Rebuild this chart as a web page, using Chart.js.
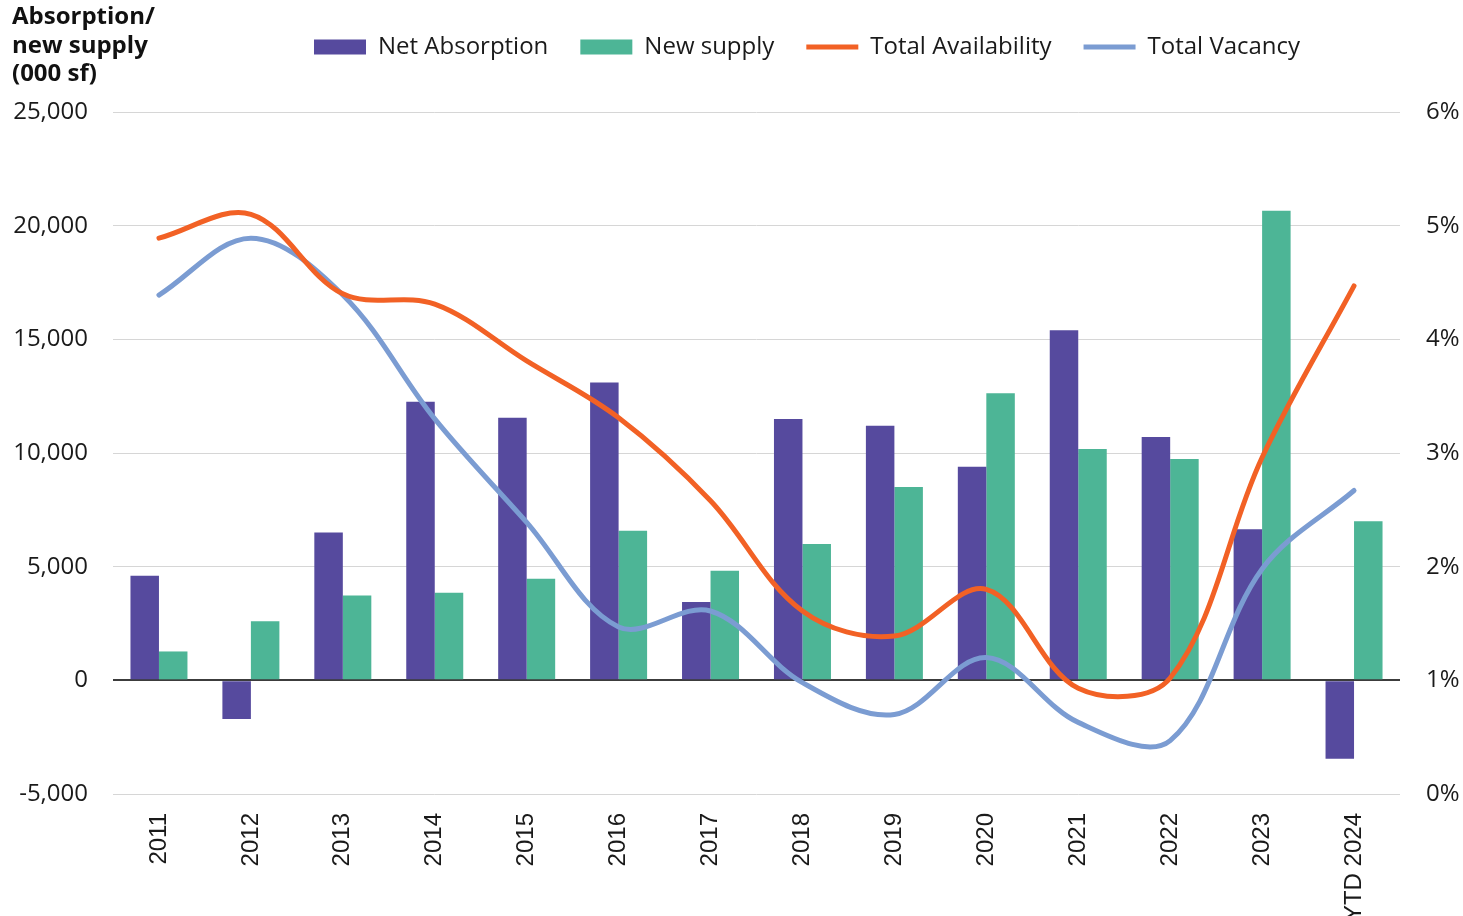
<!DOCTYPE html>
<html>
<head>
<meta charset="utf-8">
<script src="https://cdn.jsdelivr.net/npm/chart.js@4"></script>
<style>
  body { margin: 0; background: #fff; }
  #wrap { position: relative; width: 1463px; height: 916px; }
  #axisTitle {
    position: absolute; left: 12px; top: 1px;
    font: bold 24px/28.5px "Open Sans", sans-serif; color: #111;
  }
</style>
</head>
<body>
<div id="wrap">
  <canvas id="myChart" width="1463" height="916"></canvas>
  <div id="axisTitle">Absorption/<br>new supply<br>(000 sf)</div>
</div>
<script>
var years = ['2011','2012','2013','2014','2015','2016','2017','2018','2019','2020','2021','2022','2023','YTD 2024'];

// 000 sf
var netAbsorption = [4600, -1700, 6500, 12250, 11550, 13100, 3450, 11500, 11200, 9400, 15400, 10700, 6650, -3450];
var newSupply = [1270, 2600, 3730, 3850, 4470, 6580, 4820, 6000, 8500, 12630, 10180, 9740, 20660, 7000];

// percent
var totalAvailability = [4.89, 5.10, 4.40, 4.31, 3.81, 3.31, 2.58, 1.61, 1.39, 1.80, 0.93, 1.02, 2.96, 4.47];
var totalVacancy = [4.39, 4.89, 4.39, 3.30, 2.39, 1.47, 1.61, 0.98, 0.70, 1.20, 0.63, 0.47, 1.98, 2.67];

var leftTicks = { min: -5000, max: 25000, step: 5000 };
var rightTicks = { min: 0, max: 6, step: 1 };

var txt = '#1a1a1a';
var tickFont = { family: 'Open Sans', size: 24 };

// legend sits beside the title, not above the plot
var legendPlacer = {
  id: 'legendPlacer',
  afterLayout: function(chart) {
    var lg = chart.legend;
    var h = lg.height, w = lg.width;
    lg.top = 3; lg.bottom = lg.top + h;
    lg.left = 282; lg.right = lg.left + w;
  }
};

var chart = new Chart(document.getElementById('myChart'), {
  type: 'bar',
  data: {
    labels: years,
    datasets: [
      { label: 'Net Absorption', data: netAbsorption, backgroundColor: '#564a9e', borderWidth: 0,
        pointStyle: 'rect', yAxisID: 'y', order: 1, categoryPercentage: 0.62, barPercentage: 1 },
      { label: 'New supply', data: newSupply, backgroundColor: '#4db596', borderWidth: 0,
        pointStyle: 'rect', yAxisID: 'y', order: 1, categoryPercentage: 0.62, barPercentage: 1 },
      { type: 'line', label: 'Total Availability', data: totalAvailability, borderColor: '#f26125',
        backgroundColor: '#f26125', borderWidth: 5, borderCapStyle: 'round', tension: 0.35,
        pointRadius: 0, pointStyle: 'line', yAxisID: 'y1', order: 0 },
      { type: 'line', label: 'Total Vacancy', data: totalVacancy, borderColor: '#7b9cd2',
        backgroundColor: '#7b9cd2', borderWidth: 5, borderCapStyle: 'round', tension: 0.35,
        pointRadius: 0, pointStyle: 'line', yAxisID: 'y1', order: 0 }
    ]
  },
  options: {
    responsive: false,
    animation: false,
    devicePixelRatio: 1,
    layout: { padding: { top: 46, left: 0, right: 0, bottom: 0 } },
    plugins: {
      tooltip: { enabled: false },
      legend: {
        align: 'start',
        labels: {
          usePointStyle: true,
          pointStyleWidth: 52,
          boxHeight: 15,
          padding: 32,
          color: txt,
          font: { family: 'Open Sans', size: 24 },
          sort: function(a, b) { return a.datasetIndex - b.datasetIndex; }
        }
      }
    },
    scales: {
      x: {
        grid: { display: false, drawTicks: false },
        border: { display: false },
        ticks: { minRotation: 90, maxRotation: 90, autoSkip: false, padding: 19, color: txt,
                 font: { family: 'Liberation Sans', size: 24 } },
        afterFit: function(s) { s.height = 122; }
      },
      y: {
        position: 'left',
        min: leftTicks.min, max: leftTicks.max,
        grid: {
          drawTicks: false,
          color: function(c) { return c.tick && c.tick.value === 0 ? '#3c3c3c' : '#d6d6d6'; },
          lineWidth: function(c) { return c.tick && c.tick.value === 0 ? 2 : 1; }
        },
        border: { display: false },
        ticks: { stepSize: leftTicks.step, padding: 25, color: txt, font: tickFont,
                 callback: function(v) { return v.toLocaleString('en-US'); } },
        afterFit: function(s) { s.width = 113; }
      },
      y1: {
        position: 'right',
        min: rightTicks.min, max: rightTicks.max,
        grid: { drawOnChartArea: false, drawTicks: false },
        border: { display: false },
        ticks: { stepSize: rightTicks.step, padding: 26, color: txt, font: tickFont,
                 callback: function(v) { return v + '%'; } },
        afterFit: function(s) { s.width = 63; }
      }
    }
  },
  plugins: [legendPlacer]
});
</script>
</body>
</html>
